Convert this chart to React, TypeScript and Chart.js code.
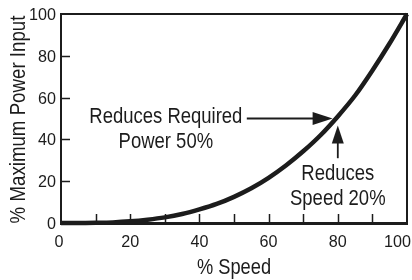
import React, { useEffect, useRef } from "react";
import { Chart, registerables } from "chart.js";

Chart.register(...registerables);

const speed = [0, 5, 10, 15, 20, 25, 30, 35, 40, 45, 50, 55, 60, 65, 70, 75, 80, 85, 90, 95, 100];
const power = [0, 0, 0.1, 0.3, 0.8, 1.6, 2.7, 4.3, 6.5, 9.1, 12.5, 16.6, 21.6, 27.5, 34.3, 42, 51, 61, 73, 86, 100];
const xTicks = [0, 20, 40, 60, 80, 100];
const yTicks = [0, 20, 40, 60, 80, 100];
const xMinorTicks = [10, 20, 30, 40, 50, 60, 70, 80, 90];
const yMinorTicks = [20, 40, 60, 80];
const xTitle = "% Speed";
const yTitle = "% Maximum Power Input";
const powerLabel = ["Reduces Required", "Power 50%"];
const speedLabel = ["Reduces", "Speed 20%"];

const FONT = "'Liberation Sans', Arial, sans-serif";
const INK = "#1c1c1c";

function narrowText(ctx: CanvasRenderingContext2D, text: string, x: number, y: number, align: CanvasTextAlign, size: number, sx: number, rot = 0) {
  ctx.save();
  ctx.translate(x, y);
  if (rot) ctx.rotate(rot);
  ctx.scale(sx, 1);
  ctx.font = `${size}px ${FONT}`;
  ctx.textAlign = align;
  ctx.textBaseline = "alphabetic";
  ctx.fillText(text, 0, 0);
  ctx.restore();
}

const decorPlugin = {
  id: "decor",
  afterDatasetsDraw(chart: any) {
    const { ctx, chartArea } = chart;
    const xs = chart.scales.x;
    const ys = chart.scales.y;
    ctx.save();
    ctx.strokeStyle = INK;
    ctx.fillStyle = INK;
    // frame top & right
    ctx.lineWidth = 2;
    ctx.beginPath();
    ctx.moveTo(chartArea.left, chartArea.top);
    ctx.lineTo(chartArea.right, chartArea.top);
    ctx.lineTo(chartArea.right, chartArea.bottom);
    ctx.stroke();
    // inward ticks
    ctx.lineWidth = 1.5;
    ctx.beginPath();
    for (const v of xMinorTicks) {
      const px = Math.round(xs.getPixelForValue(v)) + 0.5;
      ctx.moveTo(px, chartArea.bottom);
      ctx.lineTo(px, chartArea.bottom - 9);
    }
    for (const v of yMinorTicks) {
      const py = Math.round(ys.getPixelForValue(v)) + 0.5;
      ctx.moveTo(chartArea.left, py);
      ctx.lineTo(chartArea.left + 9, py);
    }
    ctx.stroke();

    // tick labels
    for (const v of xTicks) {
      const px = xs.getPixelForValue(v);
      if (v === xTicks[xTicks.length - 1]) {
        narrowText(ctx, String(v), chart.width - 1, chartArea.bottom + 24, "right", 17, 0.95);
      } else {
        narrowText(ctx, String(v), v === 0 ? px - 2 : px, chartArea.bottom + 24, "center", 17, 0.95);
      }
    }
    for (const v of yTicks) {
      narrowText(ctx, String(v), chartArea.left - 5, ys.getPixelForValue(v) + 6, "right", 17, 0.95);
    }
    // axis titles
    narrowText(ctx, xTitle, (chartArea.left + chartArea.right) / 2, 274, "center", 22, 0.83);
    narrowText(ctx, yTitle, 25, (chartArea.top + chartArea.bottom) / 2 + 1, "center", 22, 0.85, -Math.PI / 2);

    // horizontal arrow
    const hy = ys.getPixelForValue(50);
    const hx0 = xs.getPixelForValue(53.7);
    const hx1 = xs.getPixelForValue(78.5);
    ctx.lineWidth = 1.8;
    ctx.beginPath();
    ctx.moveTo(hx0, hy);
    ctx.lineTo(hx1 - 18, hy);
    ctx.stroke();
    ctx.beginPath();
    ctx.moveTo(hx1, hy);
    ctx.lineTo(hx1 - 20, hy - 6.5);
    ctx.lineTo(hx1 - 20, hy + 6.5);
    ctx.closePath();
    ctx.fill();

    // vertical arrow
    const vx = xs.getPixelForValue(80);
    const vy0 = ys.getPixelForValue(31);
    const vy1 = ys.getPixelForValue(46.7);
    ctx.beginPath();
    ctx.moveTo(vx, vy0);
    ctx.lineTo(vx, vy1 + 16);
    ctx.stroke();
    ctx.beginPath();
    ctx.moveTo(vx, vy1);
    ctx.lineTo(vx - 6, vy1 + 18);
    ctx.lineTo(vx + 6, vy1 + 18);
    ctx.closePath();
    ctx.fill();

    // annotation labels
    narrowText(ctx, powerLabel[0], xs.getPixelForValue(30.3), ys.getPixelForValue(47.7), "center", 22, 0.84);
    narrowText(ctx, powerLabel[1], xs.getPixelForValue(30.3), ys.getPixelForValue(35.7), "center", 22, 0.84);
    narrowText(ctx, speedLabel[0], xs.getPixelForValue(80), ys.getPixelForValue(20.8), "center", 22, 0.84);
    narrowText(ctx, speedLabel[1], xs.getPixelForValue(80), ys.getPixelForValue(8.5), "center", 22, 0.84);
    ctx.restore();
  },
};

export default function App() {
  const ref = useRef<HTMLCanvasElement | null>(null);
  useEffect(() => {
    if (!ref.current) return;
    const chart = new Chart(ref.current, {
      type: "line",
      data: {
        datasets: [
          {
            data: speed.map((s, i) => ({ x: s, y: power[i] })),
            borderColor: INK,
            borderWidth: 4.5,
            pointRadius: 0,
            cubicInterpolationMode: "monotone",
            fill: false,
            clip: false as any,
          },
        ],
      },
      options: {
        animation: false,
        responsive: false,
        maintainAspectRatio: false,
        layout: { padding: { top: 14, right: 5, left: 0, bottom: 0 } },
        plugins: { legend: { display: false }, tooltip: { enabled: false } },
        scales: {
          x: {
            type: "linear",
            min: 0,
            max: 100,
            afterFit(scale: any) {
              scale.height = 57;
            },
            afterBuildTicks(scale: any) {
              scale.ticks = xTicks.map((v) => ({ value: v }));
            },
            grid: { display: false, drawTicks: false },
            border: { display: true, color: INK, width: 3 },
            ticks: { display: false },
            title: { display: false, text: xTitle },
          },
          y: {
            type: "linear",
            min: 0,
            max: 100,
            afterFit(scale: any) {
              scale.width = 61;
            },
            afterBuildTicks(scale: any) {
              scale.ticks = yTicks.map((v) => ({ value: v }));
            },
            grid: { display: false, drawTicks: false },
            border: { display: true, color: INK, width: 2 },
            ticks: { display: false },
            title: { display: false, text: yTitle },
          },
        },
      },
      plugins: [decorPlugin],
    });
    return () => chart.destroy();
  }, []);
  return (
    <div style={{ position: "absolute", left: 0, top: 0, width: 412, height: 280, background: "#fff" }}>
      <canvas ref={ref} width={412} height={280} style={{ display: "block", width: 412, height: 280 }} />
    </div>
  );
}
